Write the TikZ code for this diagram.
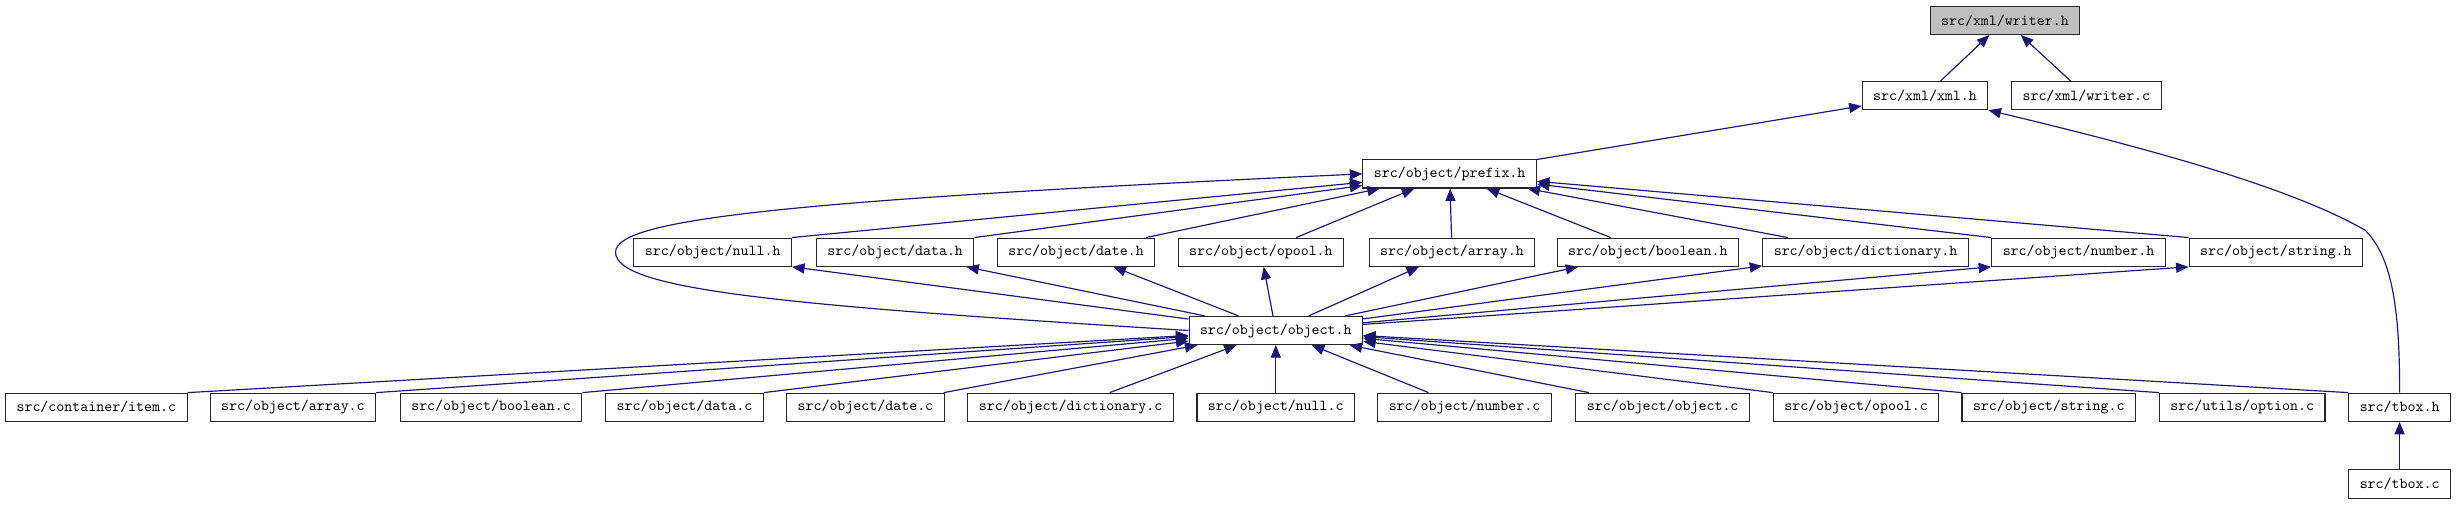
\documentclass[tikz,border=0pt]{standalone}
\usetikzlibrary{arrows.meta}
\definecolor{depblue}{HTML}{191970}

\begin{document}
\begin{tikzpicture}[x=1pt, y=-1pt,
  file/.style={draw=black!85, line width=0.7pt, fill=white, inner xsep=7pt, inner ysep=0pt,
    minimum height=18pt, font=\fontsize{9.7}{11}\selectfont\ttfamily},
  dep/.style={draw=depblue, line width=0.75pt, -{Triangle[length=8pt,width=6.5pt]}}]
\useasboundingbox (0,0) rectangle (1568,322);

% ---------- (A) xml writer ----------
\node[file, fill=black!25] (writerh) at (1280,13) {src/xml/writer.h};
\node[file] (xmlh) at (1229,61) {src/xml/xml.h};
\node[file] (writerc) at (1332,61) {src/xml/writer.c};

% ---------- (B) object headers ----------
\node[file] (prefixh) at (925.5,111) {src/object/prefix.h};
\node[file] (nullh) at (455,161) {src/object/null.h};
\node[file] (datah) at (571.5,161) {src/object/data.h};
\node[file] (dateh) at (687,161) {src/object/date.h};
\node[file] (opoolh) at (805,161) {src/object/opool.h};
\node[file] (arrayh) at (927,161) {src/object/array.h};
\node[file] (booleanh) at (1052,161) {src/object/boolean.h};
\node[file] (dictionaryh) at (1191,161) {src/object/dictionary.h};
\node[file] (numberh) at (1327,161) {src/object/number.h};
\node[file] (stringh) at (1453,161) {src/object/string.h};
\node[file] (objecth) at (814.5,211) {src/object/object.h};

% ---------- (C) sources ----------
\node[file] (itemc) at (61.5,260) {src/container/item.c};
\node[file] (arrayc) at (187,260) {src/object/array.c};
\node[file] (booleanc) at (313.5,260) {src/object/boolean.c};
\node[file] (datac) at (437,260) {src/object/data.c};
\node[file] (datec) at (552.5,260) {src/object/date.c};
\node[file] (dictionaryc) at (683.5,260) {src/object/dictionary.c};
\node[file] (nullc) at (814.5,260) {src/object/null.c};
\node[file] (numberc) at (935,260) {src/object/number.c};
\node[file] (objectc) at (1061.5,260) {src/object/object.c};
\node[file] (opoolc) at (1185,260) {src/object/opool.c};
\node[file] (stringc) at (1308,260) {src/object/string.c};
\node[file] (optionc) at (1431.5,260) {src/utils/option.c};
\node[file] (tboxh) at (1532,260) {src/tbox.h};
\node[file] (tboxc) at (1532,309) {src/tbox.c};

% ---------- (D) includes ----------
\draw[dep] (xmlh) -- (writerh);
\draw[dep] (writerc) -- (writerh);
\draw[dep] (prefixh) -- (xmlh);
\draw[dep] (tboxh.north) .. controls (1532,200) and (1528,165) .. (1510,147)
  .. controls (1460,118) and (1360,92) .. (xmlh.south east);

\draw[dep] (nullh.north east) -- (prefixh);
\draw[dep] (datah.north east) -- (prefixh);
\draw[dep] (dateh) -- (prefixh);
\draw[dep] (opoolh) -- (prefixh);
\draw[dep] (arrayh) -- (prefixh);
\draw[dep] (booleanh) -- (prefixh);
\draw[dep] (dictionaryh) -- (prefixh);
\draw[dep] (numberh.north west) -- (prefixh);
\draw[dep] (stringh.north west) -- (prefixh);
\draw[dep] (objecth.west) .. controls (500,195) and (393,185) .. (393,161)
  .. controls (393,140) and (500,128) .. (prefixh.west);

\draw[dep] (objecth) -- (nullh.south east);
\draw[dep] (objecth) -- (datah);
\draw[dep] (objecth) -- (dateh);
\draw[dep] (objecth) -- (opoolh);
\draw[dep] (objecth) -- (arrayh);
\draw[dep] (objecth) -- (booleanh);
\draw[dep] (objecth) -- (dictionaryh);
\draw[dep] (objecth) -- (numberh.south west);
\draw[dep] (objecth) -- (stringh.south west);

\draw[dep] (itemc.north east) -- (objecth);
\draw[dep] (arrayc.north east) -- (objecth);
\draw[dep] (booleanc.north east) -- (objecth);
\draw[dep] (datac.north east) -- (objecth);
\draw[dep] (datec) -- (objecth);
\draw[dep] (dictionaryc) -- (objecth);
\draw[dep] (nullc) -- (objecth);
\draw[dep] (numberc) -- (objecth);
\draw[dep] (objectc) -- (objecth);
\draw[dep] (opoolc.north west) -- (objecth);
\draw[dep] (stringc.north west) -- (objecth);
\draw[dep] (optionc.north west) -- (objecth);
\draw[dep] (tboxh.north west) -- (objecth);
\draw[dep] (tboxc) -- (tboxh);

\end{tikzpicture}
\end{document}
